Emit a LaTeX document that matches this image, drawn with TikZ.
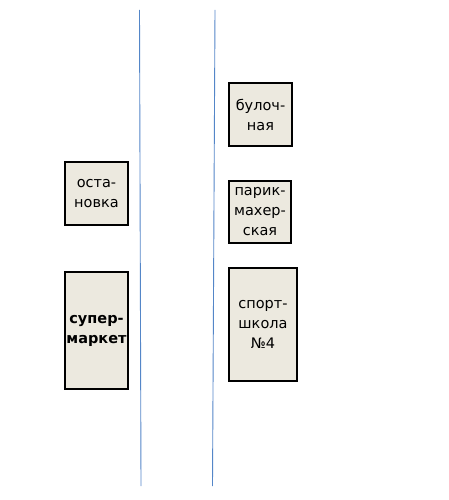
\documentclass[tikz,border=0pt]{standalone}
\usepackage{fontspec}
\setmainfont{DejaVu Sans}
\usepackage{xcolor}
\definecolor{shopfill}{RGB}{236, 233, 223}
\definecolor{roadblue}{RGB}{84, 134, 200}
\usepackage{tikz}

\begin{document}
\begin{tikzpicture}[
  x=1pt, y=-1pt,
  place/.style={draw=black, line width=1.6pt, fill=shopfill, align=center, inner sep=0pt, font=\fontsize{14.5}{20}\selectfont},
  road/.style={draw=roadblue, line width=0.9pt}
]
  \useasboundingbox (0,0) rectangle (449,500);

  % Streets
  \draw[road] (139.5,10) -- (141,486);
  \draw[road] (215,10) -- (212.5,486);

  % Left side
  \node[place, minimum width=63pt, minimum height=63pt]  (stop)   at (96.5,193.5) {оста-\\новка};
  \node[place, minimum width=63pt, minimum height=117pt, font=\fontsize{14.5}{20}\selectfont\bfseries] (market) at (96.5,330.5) {супер-\\маркет};

  % Right side
  \node[place, minimum width=63pt, minimum height=63pt]  (bakery) at (260.5,114.5) {булоч-\\ная};
  \node[place, minimum width=62pt, minimum height=62pt]  (barber) at (260,212)     {парик-\\махер-\\ская};
  \node[place, minimum width=68pt, minimum height=113pt] (sport)  at (263,324.5)   {спорт-\\школа\\№4};
\end{tikzpicture}
\end{document}
